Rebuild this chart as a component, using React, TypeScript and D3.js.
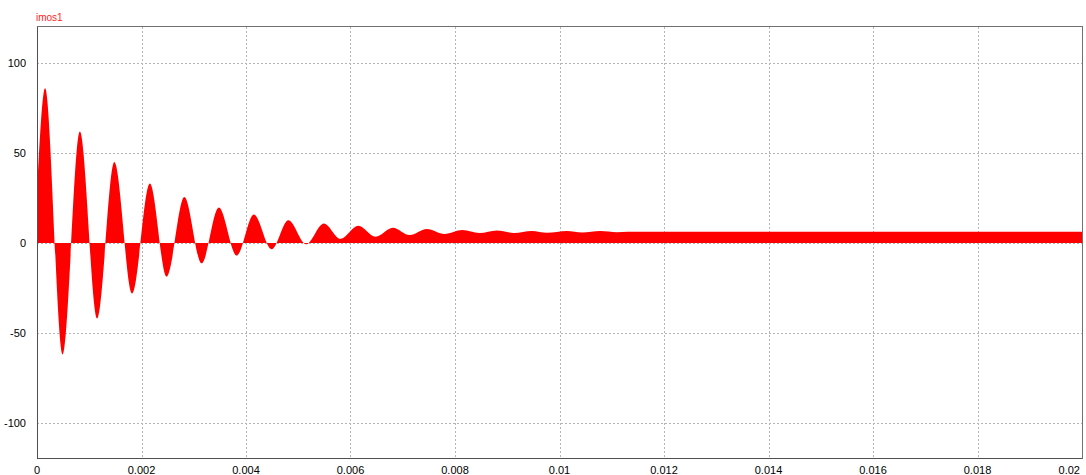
import React from "react";
import * as d3 from "d3";

// Waveform extrema of imos1 (time in s, current in A)
const extremaTime = [
  0, 0.000155, 0.00049, 0.00082, 0.00115, 0.00148, 0.00182, 0.00216, 0.00248,
  0.00282, 0.00315, 0.00348, 0.00382, 0.00415, 0.00449, 0.00481, 0.00515,
  0.00549, 0.00581, 0.00615, 0.00648, 0.00681, 0.00713, 0.00746, 0.0078,
  0.00814, 0.00847, 0.0088, 0.00913, 0.00947, 0.00976, 0.01014, 0.01043,
  0.01078, 0.0111, 0.0113, 0.02,
];
const extremaValue = [
  28, 86, -62, 62, -42, 45, -28, 33, -18.7, 25.5, -11.3, 19.7, -7, 15.8, -3.5,
  12.6, -0.7, 10.9, 2.4, 9.6, 3.5, 8.5, 4.4, 7.8, 5.0, 7.2, 5.6, 7.0, 5.6, 6.7,
  5.7, 6.7, 5.8, 6.6, 6.0, 6.3, 6.3,
];

const xTicks = [0, 0.002, 0.004, 0.006, 0.008, 0.01, 0.012, 0.014, 0.016, 0.018, 0.02];
const xTickLabels = ["0", "0.002", "0.004", "0.006", "0.008", "0.01", "0.012", "0.014", "0.016", "0.018", "0.02"];
const yTicks = [-100, -50, 0, 50, 100];
const yTickLabels = ["-100", "-50", "0", "50", "100"];
const seriesName = "imos1";

const W = 1086;
const H = 475;
const left = 37;
const right = 1082;
const top = 27;
const bottom = 459;

export default function App() {
  const x = d3.scaleLinear().domain([0, 0.02]).range([left, right]);
  const y = d3.scaleLinear().domain([-120, 120]).range([bottom, top]);

  const points = extremaTime.map((t, i) => [t, extremaValue[i]] as [number, number]);
  const area = d3
    .area<[number, number]>()
    .x((d) => x(d[0]))
    .y0(() => y(0))
    .y1((d) => y(d[1]))
    .curve(d3.curveMonotoneX);

  const font = "'Liberation Sans', Arial, sans-serif";
  const last = xTicks.length - 1;

  return (
    <svg
      width={W}
      height={H}
      style={{ position: "absolute", left: 0, top: 0, background: "#fff" }}
    >
      <rect x={0} y={0} width={W} height={H} fill="#fff" />
      {/* grid */}
      <g stroke="#b4b4b4" strokeWidth={1} strokeDasharray="2,2" shapeRendering="crispEdges">
        {xTicks.slice(1, -1).map((t) => (
          <line key={"gx" + t} x1={Math.round(x(t)) + 0.5} x2={Math.round(x(t)) + 0.5} y1={top} y2={bottom} />
        ))}
        {yTicks.map((v) => (
          <line key={"gy" + v} x1={left} x2={right} y1={Math.round(y(v)) + 0.5} y2={Math.round(y(v)) + 0.5} />
        ))}
      </g>
      {/* trace */}
      <path d={area(points) ?? ""} fill="#ff0000" stroke="none" />
      {/* frame */}
      <rect
        x={left + 0.5}
        y={top - 0.5}
        width={right - left}
        height={bottom - top}
        fill="none"
        stroke="#707070"
        strokeWidth={1}
        shapeRendering="crispEdges"
      />
      <line x1={left + 0.5} x2={left + 0.5} y1={top} y2={bottom} stroke="#505050" shapeRendering="crispEdges" />
      <line x1={left} x2={right} y1={bottom - 0.5} y2={bottom - 0.5} stroke="#505050" shapeRendering="crispEdges" />
      {/* y labels */}
      <g fontFamily={font} fontSize={11} fill="#000" textAnchor="end">
        {yTicks.map((v, i) => (
          <text key={"yl" + v} x={26} y={y(v)} dy="0.35em">
            {yTickLabels[i]}
          </text>
        ))}
      </g>
      {/* x labels */}
      <g fontFamily={font} fontSize={11} fill="#000">
        {xTicks.map((t, i) => (
          <text
            key={"xl" + t}
            x={i === last ? 1080 : x(t)}
            y={470}
            dy="0.35em"
            textAnchor={i === last ? "end" : "middle"}
          >
            {xTickLabels[i]}
          </text>
        ))}
      </g>
      <text x={36} y={17} dy="0.35em" fontFamily={font} fontSize={10} fill="#ff2020">
        {seriesName}
      </text>
    </svg>
  );
}
